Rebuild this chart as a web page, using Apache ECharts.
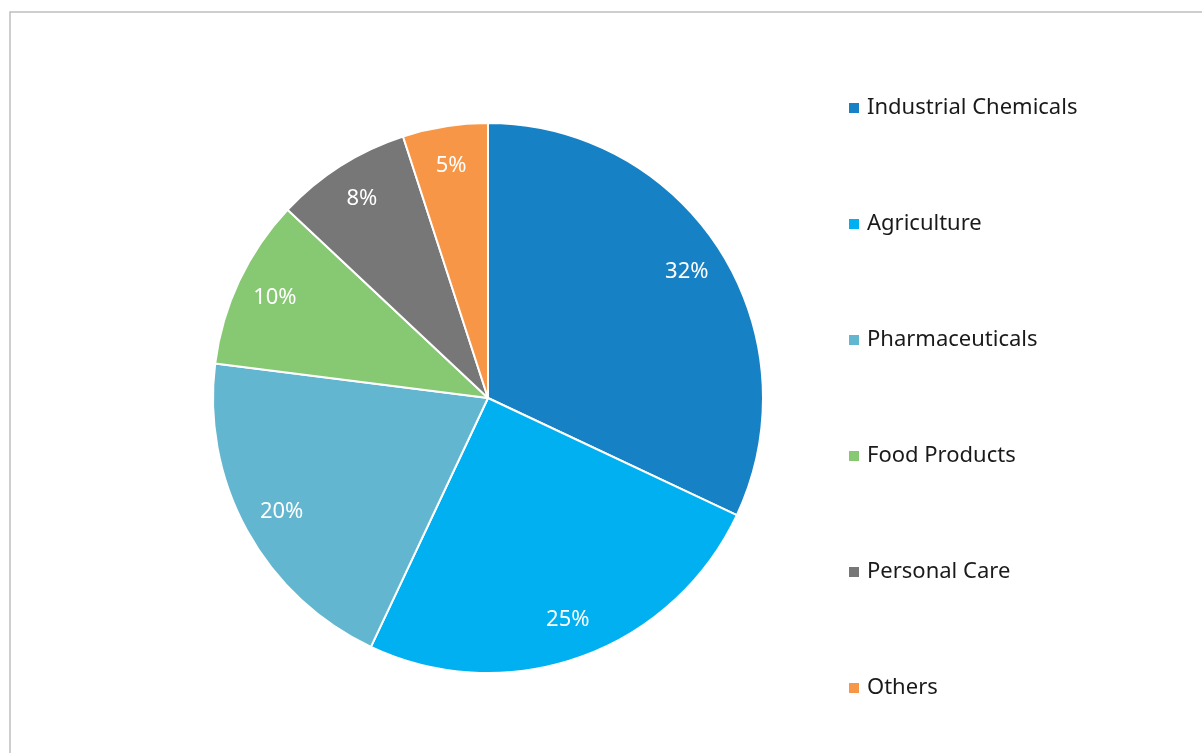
<!DOCTYPE html>
<html>
<head>
<meta charset="utf-8">
<script src="https://cdn.jsdelivr.net/npm/echarts@6/dist/echarts.min.js"></script>
<style>
html,body{margin:0;padding:0;background:#fff;}
#chart{width:1202px;height:753px;}
</style>
</head>
<body>
<div id="chart"></div>
<script>
const categories = ['Industrial Chemicals','Agriculture','Pharmaceuticals','Food Products','Personal Care','Others'];
const values = [32, 25, 20, 10, 8, 5];
const colors = ['#1682C5','#00B0F0','#63B6CF','#87C873','#777777','#F79646'];

const data = categories.map((n, i) => ({ name: n, value: values[i], itemStyle: { color: colors[i] } }));
const labelData = categories.map((n, i) => ({ name: n, value: values[i] }));

const chart = echarts.init(document.getElementById('chart'), null, { renderer: 'canvas' });
chart.setOption({
  animation: false,
  backgroundColor: '#ffffff',
  graphic: [{
    type: 'rect',
    shape: { x: 10, y: 12, width: 1210, height: 760 },
    style: { fill: 'none', stroke: '#BFBFBF', lineWidth: 1.5 },
    silent: true, z: -10
  }],
  legend: {
    orient: 'vertical',
    left: 842,
    top: 92,
    itemWidth: 12,
    itemHeight: 12,
    itemGap: 94,
    icon: 'rect',
    data: categories,
    selectedMode: false,
    textStyle: { fontFamily: 'Noto Sans', fontSize: 22, color: '#1a1a1a', lineHeight: 22, padding: [0, 0, 0, 2] }
  },
  series: [{
    type: 'pie',
    center: [488, 398],
    radius: [0, 275],
    startAngle: 90,
    clockwise: true,
    label: { show: false },
    labelLine: { show: false },
    itemStyle: { borderColor: '#ffffff', borderWidth: 2 },
    emphasis: { disabled: true },
    data: data
  }, {
    type: 'pie',
    center: [488, 398],
    radius: [190, 275],
    startAngle: 90,
    clockwise: true,
    silent: true,
    legendHoverLink: false,
    itemStyle: { color: 'rgba(0,0,0,0)' },
    label: {
      show: true,
      position: 'inside',
      formatter: '{c}%',
      color: '#ffffff',
      fontFamily: 'Noto Sans',
      fontSize: 22
    },
    labelLine: { show: false },
    emphasis: { disabled: true },
    data: labelData
  }]
});
</script>
</body>
</html>
